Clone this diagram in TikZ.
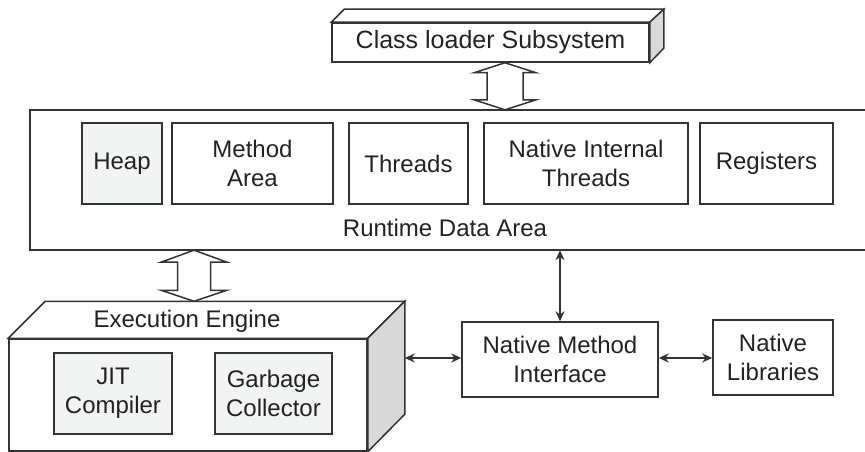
\documentclass[tikz,border=0pt]{standalone}
\usepackage{fontspec}
\setmainfont{Liberation Sans}
\usetikzlibrary{arrows.meta,calc}
\definecolor{ln}{HTML}{333333}
\definecolor{tx}{HTML}{222222}
\definecolor{lightbox}{HTML}{F2F4F3}
\definecolor{sideface}{HTML}{D9D9D9}
\begin{document}
\begin{tikzpicture}[x=1pt,y=-1pt,
  every node/.style={text=tx,font=\fontsize{24}{29}\selectfont,align=center},
  ln/.style={draw=ln,line width=1.5pt,line join=miter},
  box/.style={ln,rectangle,inner sep=0pt,minimum height=81pt},
  graybox/.style={box,fill=lightbox},
  conn/.style={draw=ln,line width=1.3pt,{Stealth[length=10pt,width=9pt]}-{Stealth[length=10pt,width=9pt]}},
  hol/.style={draw=ln,line width=1.5pt,fill=white,line join=miter}
]
\useasboundingbox (0,0) rectangle (865,452);

% Class loader subsystem (3D box)
\node[ln,rectangle,inner sep=0pt,minimum width=317pt,minimum height=39pt,fill=white,font=\fontsize{25}{29}\selectfont] (cls) at (490.5,42.5) {Class loader Subsystem};
\draw[ln,fill=white] (cls.north west) -- ++(13,-13) -- ($(cls.north east)+(14,-13)$) -- (cls.north east) -- cycle;
\draw[ln,fill=sideface] (cls.north east) -- ++(14,-13) -- ++(0,39) -- (cls.south east) -- cycle;

% Runtime data area (open on the right)
\node[draw=none,minimum width=835pt,minimum height=140pt,inner sep=0pt] (rt) at (447.5,180) {};
\draw[ln] (rt.north east) -- (rt.north west) -- (rt.south west) -- (rt.south east);
\node (rtl) at (445,228) {Runtime Data Area};

\node[graybox,minimum width=80pt] (heap) at (122,163.5) {Heap};
\node[box,minimum width=161pt] (meth) at (252.5,163.5) {Method\\Area};
\node[box,minimum width=119pt] (thr) at (408.5,163.5) {Threads};
\node[box,minimum width=204pt] (nit) at (586,163.5) {Native Internal\\Threads};
\node[box,minimum width=133pt] (reg) at (766.5,163.5) {Registers};

% Execution engine (3D box)
\node[ln,rectangle,inner sep=0pt,minimum width=358pt,minimum height=112pt,fill=white] (ee) at (188,395) {};
\draw[ln,fill=white] (ee.north west) -- ++(37,-37) -- ($(ee.north east)+(37,-37)$) -- (ee.north east) -- cycle;
\draw[ln,fill=sideface] (ee.north east) -- ++(37,-37) -- ++(0,113) -- (ee.south east) -- cycle;
\node (eel) at (187,321) {Execution Engine};
\node[graybox,minimum width=118pt] (jit) at (113,393.5) {JIT\\Compiler};
\node[graybox,minimum width=117pt] (gc) at (273.5,393.5) {Garbage\\Collector};

% Native method interface and libraries
\node[box,minimum width=196pt,minimum height=75pt] (nmi) at (560,359.5) {Native Method\\Interface};
\node[box,minimum width=120pt,minimum height=75pt] (nl) at (773,357.5) {Native\\Libraries};

% Connectors
\coordinate (eer) at ($(ee.east)+(37,-37)$);
\coordinate (eeside) at (eer |- 0,358);
\draw[conn] (eeside) -- (eeside -| nmi.west);
\draw[conn] (nmi.east |- 0,358) -- (nl.west |- 0,358);
\draw[conn] (rt.south -| nmi.north) -- (nmi.north);

% Hollow double arrows
\coordinate (ax1) at (505,0);
\coordinate (t1a) at (cls.south -| ax1);
\coordinate (t1b) at (rt.north -| ax1);
\draw[hol] (t1a) -- ++(31,10) -- ++(-13,0) -- ($(t1b)+(18,-10)$) -- ++(13,0) -- (t1b)
  -- ++(-31,-10) -- ++(13,0) -- ($(t1a)+(-18,10)$) -- ++(-13,0) -- cycle;
\coordinate (ax2) at (194,0);
\coordinate (t2a) at (rt.south -| ax2);
\coordinate (t2b) at ($(ee.north -| ax2)+(0,-37)$);
\draw[hol] (t2a) -- ++(33,12) -- ++(-16.5,0) -- ($(t2b)+(16.5,-11)$) -- ++(16.5,0) -- (t2b)
  -- ++(-33,-11) -- ++(16.5,0) -- ($(t2a)+(-16.5,12)$) -- ++(-16.5,0) -- cycle;
\end{tikzpicture}
\end{document}
